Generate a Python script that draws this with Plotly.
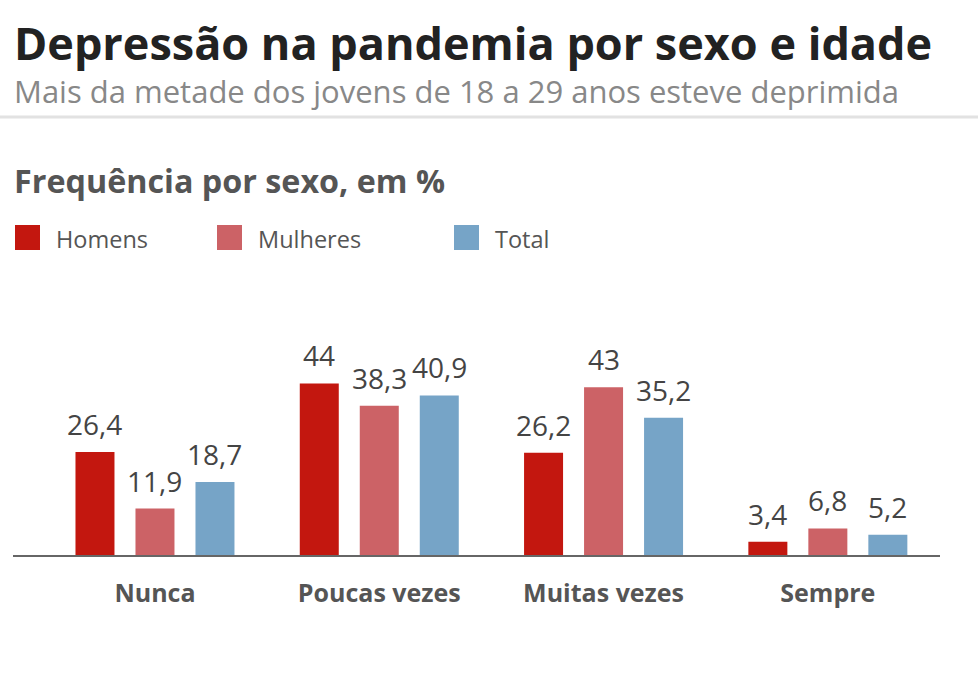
import plotly.graph_objects as go

categories = ["Nunca", "Poucas vezes", "Muitas vezes", "Sempre"]
series_names = ["Homens", "Mulheres", "Total"]
homens = [26.4, 44, 26.2, 3.4]
mulheres = [11.9, 38.3, 43, 6.8]
total = [18.7, 40.9, 35.2, 5.2]
series_values = [homens, mulheres, total]
colors = ["#c3170f", "#cc6266", "#76a4c7"]

W, H = 978, 693
def px(x):
    return x / W
def py(y):
    return 1 - y / H

def fmt(v):
    s = ("%.1f" % v).rstrip("0").rstrip(".")
    return s.replace(".", ",")

fig = go.Figure()
for name, vals, col in zip(series_names, series_values, colors):
    fig.add_trace(go.Bar(
        x=categories, y=vals, name=name, marker=dict(color=col, line=dict(width=0)),
        hoverinfo="skip", showlegend=False,
    ))

base_y = 555
fig.update_layout(
    width=W, height=H, margin=dict(l=0, r=0, t=0, b=0, pad=0),
    paper_bgcolor="white", plot_bgcolor="white",
    barmode="group", bargap=0.1975, bargroupgap=0.35,
    font=dict(family="Open Sans", color="#555"),
    xaxis=dict(domain=[px(13), px(940)], range=[-0.633, 3.5], showgrid=False,
               showline=True, linecolor="#666", linewidth=2, ticks="",
               tickfont=dict(family="Open Sans", size=25, color="#555", weight="bold"),
               ticklabelstandoff=15, zeroline=False, fixedrange=True),
    yaxis=dict(domain=[1 - base_y / H, 1], range=[0, base_y / 3.9], visible=False,
               fixedrange=True),
)

ann = []
# value labels above each bar
offsets = [-60, 0, 60]
for vals, dx in zip(series_values, offsets):
    for cat, v in zip(categories, vals):
        ann.append(dict(text=fmt(v), xref="x", yref="y", x=cat, y=v, xshift=dx, yshift=7,
                        xanchor="center", yanchor="bottom", showarrow=False,
                        font=dict(family="Open Sans", size=28, color="#444")))

def note(text, x, y, size, color):
    ann.append(dict(text=text, xref="paper", yref="paper", x=px(x), y=py(y),
                    xanchor="left", yanchor="middle", showarrow=False,
                    font=dict(family="Open Sans", size=size, color=color)))

note("<b>Depressão na pandemia por sexo e idade</b>", 12, 43, 45, "#222")
note("Mais da metade dos jovens de 18 a 29 anos esteve deprimida", 12, 91, 31, "#888")
note("<b>Frequência por sexo, em %</b>", 12, 180, 32.3, "#555")

shapes = [dict(type="line", xref="paper", yref="paper", x0=0, x1=1, y0=py(117), y1=py(117),
               line=dict(color="#e2e2e2", width=3))]
leg_x = [15, 217, 454]
for name, col, lx in zip(series_names, colors, leg_x):
    shapes.append(dict(type="rect", xref="paper", yref="paper", x0=px(lx), x1=px(lx + 25),
                       y0=py(250), y1=py(225), fillcolor=col, line=dict(width=0)))
    note(name, lx + 39, 239, 23.5, "#555")

fig.update_layout(annotations=ann, shapes=shapes)
fig.write_html("out.html")
